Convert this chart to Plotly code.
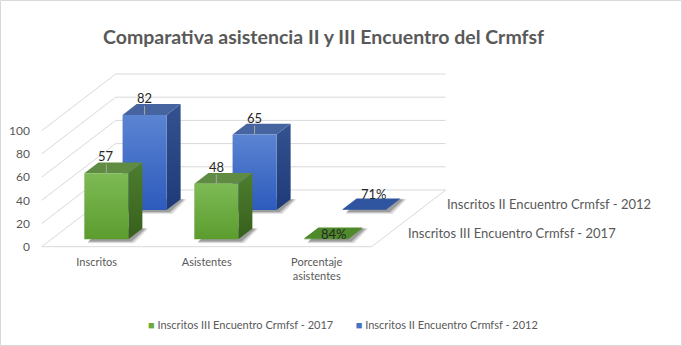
import plotly.graph_objects as go

# ---------------- data ----------------
categories = ["Inscritos", "Asistentes", "Porcentaje<br>asistentes"]
series_names = ["Inscritos III Encuentro Crmfsf - 2017", "Inscritos II Encuentro Crmfsf - 2012"]
values_2017 = [57, 48, 0.84]
values_2012 = [82, 65, 0.71]
labels_2017 = ["57", "48", "84%"]
labels_2012 = ["82", "65", "71%"]
y_ticks = [0, 20, 40, 60, 80, 100]
title_text = "Comparativa asistencia II y III Encuentro del Crmfsf"

# ---------------- layout geometry (styling) ----------------
W, H = 682, 346
ML = 31
PW = W - ML
PX_PER_CAT = 110.0
CAT0_PX = 96.7
PX_PER_UNIT = 1.16
ZERO_PX = 246.7
DX = 74.0 / PX_PER_CAT          # depth vector, category units
DY = 56.7 / PX_PER_UNIT         # depth vector, value units
BW = 0.40                        # bar width (category units)
ROW_CENTER = [0.225, 0.742]      # depth centre of each series row
HALF_D = 0.095
PXX = 1.0 / PX_PER_CAT
PXY = 1.0 / PX_PER_UNIT

x_range = [(ML - CAT0_PX) / PX_PER_CAT, (W - CAT0_PX) / PX_PER_CAT]
y_range = [(ZERO_PX - H) / PX_PER_UNIT, ZERO_PX / PX_PER_UNIT]

GRID = "#d9d9d9"
TXT = "#595959"
FONT = "Lato"

styles = [
    dict(front=("#5c9c2e", "#7dba55"), side=("#375f1c", "#4d7e2e"), top="#5f8c42",
         flat="#4f8a2a", legend="#6aab3c"),
    dict(front=("#2d5bbd", "#5b84d2"), side=("#1f3a78", "#33528f"), top="#46649f",
         flat="#2f55a0", legend="#4472c4"),
]


def P(u, v, d):
    return (u + d * DX, v + d * DY)


def paper_x(px):
    return (px - ML) / PW


fig = go.Figure()


def poly(pts, color=None, grad=None, opacity=1.0):
    xs = [p[0] for p in pts] + [pts[0][0]]
    ys = [p[1] for p in pts] + [pts[0][1]]
    kw = dict(x=xs, y=ys, mode="lines", fill="toself", line=dict(width=0),
              hoverinfo="skip", showlegend=False, opacity=opacity)
    if grad is not None:
        kw["fillgradient"] = dict(type="vertical", colorscale=[[0, grad[0]], [1, grad[1]]])
        kw["fillcolor"] = grad[1]
    else:
        kw["fillcolor"] = color
    fig.add_trace(go.Scatter(**kw))


# ---------------- walls / floor ----------------
gx, gy = [], []
for t in y_ticks:
    a, b, c = P(-0.5, t, 0), P(-0.5, t, 1), P(2.5, t, 1)
    gx += [a[0], b[0], c[0], None]
    gy += [a[1], b[1], c[1], None]
f0, f1, f2 = P(-0.5, 0, 0), P(2.5, 0, 0), P(2.5, 0, 1)
gx += [f0[0], f1[0], f2[0], None]
gy += [f0[1], f1[1], f2[1], None]
fig.add_trace(go.Scatter(x=gx, y=gy, mode="lines", line=dict(color=GRID, width=1),
                         hoverinfo="skip", showlegend=False))

# ---------------- bars ----------------
series_vals = [values_2017, values_2012]
series_labels = [labels_2017, labels_2012]
annotations = []

for r in [1, 0]:
    st = styles[r]
    d0 = ROW_CENTER[r] - HALF_D
    d1 = ROW_CENTER[r] + HALF_D
    # shadows
    for i, v in enumerate(series_vals[r]):
        u0, u1 = i - BW / 2, i + BW / 2
        for k, a in [(4, 0.10), (2.5, 0.14), (1, 0.2)]:
            ex = k * PXX
            ey = k * PXY
            pts = [P(u0 + 2 * PXX - ex * 0.3, 0, d0), P(u1 + ex, 0, d0),
                   P(u1 + ex, 0, d1), P(u0 + 2 * PXX, 0, d1)]
            pts = [(x + 2 * PXX, y - 1.5 * PXY - ey * 0.6) if j < 2 else (x + 2 * PXX, y)
                   for j, (x, y) in enumerate(pts)]
            poly(pts, color="rgba(0,0,0,%.2f)" % a)
    for i, v in enumerate(series_vals[r]):
        u0, u1 = i - BW / 2, i + BW / 2
        flat = v < 5
        # side face
        poly([P(u1, 0, d0), P(u1, 0, d1), P(u1, v, d1), P(u1, v, d0)],
             grad=st["side"] if not flat else (st["flat"], st["flat"]))
        # top face
        poly([P(u0, v, d0), P(u1, v, d0), P(u1, v, d1), P(u0, v, d1)],
             color=st["top"] if not flat else st["flat"])
        # front face
        poly([P(u0, 0, d0), P(u1, 0, d0), P(u1, v, d0), P(u0, v, d0)],
             grad=st["front"] if not flat else (st["flat"], st["flat"]))
        # labels
        cx, cy = P(i, v, d0)
        if not flat:
            fig.add_trace(go.Scatter(x=[cx, cx], y=[cy, cy + 9 * PXY], mode="lines",
                                     line=dict(color="#a6a6a6", width=1),
                                     hoverinfo="skip", showlegend=False))
            xs, ys = 0, 17
        else:
            xs, ys = (8, 4) if r == 0 else (9, 15)
        annotations.append(dict(x=cx, y=cy, xref="x", yref="y", text=series_labels[r][i],
                                showarrow=False, xshift=xs, yshift=ys,
                                font=dict(family=FONT, size=13, color="#262626")))

# depth axis labels
for r in [1, 0]:
    px, py = P(2.5, 0, ROW_CENTER[r])
    annotations.append(dict(x=px, y=py, xref="x", yref="y", text=series_names[r],
                            showarrow=False, xanchor="left", yanchor="middle",
                            xshift=18, yshift=1, font=dict(family=FONT, size=13, color=TXT)))

# title
annotations.append(dict(x=paper_x(323), y=1 - 37 / H, xref="paper", yref="paper",
                        text="<b>" + title_text + "</b>",
                        showarrow=False, xanchor="center", yanchor="middle",
                        font=dict(family=FONT, size=19.5, color=TXT)))

# legend (bottom)
leg_text = ("<span style='color:%s'>■</span> %s        <span style='color:%s'>■</span> %s"
            % (styles[0]["legend"], series_names[0], styles[1]["legend"], series_names[1]))
annotations.append(dict(x=paper_x(343), y=1 - 324 / H, xref="paper", yref="paper", text=leg_text,
                        showarrow=False, xanchor="center", yanchor="middle",
                        font=dict(family=FONT, size=11, color=TXT)))

fig.update_layout(
    width=W, height=H, autosize=False,
    margin=dict(l=ML, r=0, t=0, b=0),
    paper_bgcolor="white", plot_bgcolor="white",
    showlegend=False,
    xaxis=dict(range=x_range, showgrid=False, zeroline=False, showline=False,
               tickmode="array", tickvals=[0, 1, 2], ticktext=categories,
               anchor="free", position=(H - 254) / H, ticks="",
               tickfont=dict(family=FONT, size=11, color=TXT), fixedrange=True),
    yaxis=dict(range=y_range, showgrid=False, zeroline=False, showline=False,
               tickmode="array", tickvals=y_ticks, ticks="",
               tickfont=dict(family=FONT, size=12, color=TXT), fixedrange=True),
    annotations=annotations,
    shapes=[dict(type="rect", xref="paper", yref="paper", x0=paper_x(0.5), y0=0.5 / H,
                 x1=paper_x(W - 0.5), y1=1 - 0.5 / H,
                 line=dict(color="#d9d9d9", width=1))],
)

fig.write_html("out.html")
